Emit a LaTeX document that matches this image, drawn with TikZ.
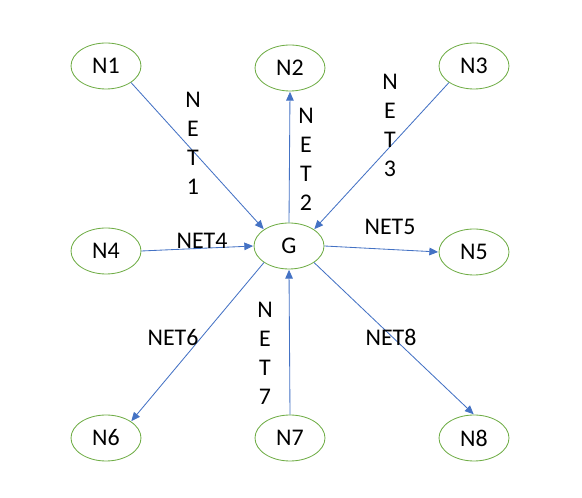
\documentclass[tikz,border=0pt]{standalone}
\usepackage{fontspec}
\setmainfont{Carlito}
\usepackage{tikz}
\usetikzlibrary{shapes.geometric,arrows.meta}

\definecolor{nodegreen}{RGB}{112,173,71}
\definecolor{wireblue}{RGB}{68,114,196}

\begin{document}
\begin{tikzpicture}[
  font=\fontsize{17}{20.6}\selectfont,
  vertex/.style={draw=nodegreen, ellipse, line width=0.6pt, inner sep=0pt,
    minimum width=1.75cm, minimum height=1.15cm},
  wire/.style={draw=wireblue, line width=0.6pt,
    -{Triangle[length=0.22cm,width=0.19cm]}, shorten >=0.3pt},
  netlabel/.style={align=center, inner sep=0pt}]
  \useasboundingbox (0,0) rectangle (14.55,12.45);

  \node[vertex] (N1) at (2.65,10.8) {N1};
  \node[vertex] (N2) at (7.25,10.75) {N2};
  \node[vertex] (N3) at (11.85,10.8) {N3};
  \node[vertex] (N4) at (2.65,6.175) {N4};
  \node[vertex] (G) at (7.225,6.3) {G};
  \node[vertex] (N5) at (11.85,6.15) {N5};
  \node[vertex] (N6) at (2.65,1.5) {N6};
  \node[vertex] (N7) at (7.25,1.5) {N7};
  \node[vertex] (N8) at (11.85,1.5) {N8};

  \draw[wire] (N1.south east) -- (G.north west);
  \draw[wire] (G.north) -- (N2.south);
  \draw[wire] (N3.south west) -- (G.north east);
  \draw[wire] (N4.east) -- (G.west);
  \draw[wire] (G.east) -- (N5.west);
  \draw[wire] (G.south west) -- (N6.north east);
  \draw[wire] (N7.north) -- (G.south);
  \draw[wire] (G.south east) -- (N8.north);

  \node[netlabel] (net1) at (4.825,8.86) {N\\E\\T\\1};
  \node[netlabel] (net2) at (7.65,8.46) {N\\E\\T\\2};
  \node[netlabel] (net3) at (9.75,9.325) {N\\E\\T\\3};
  \node[netlabel] (net4) at (5.05,6.425) {NET4};
  \node[netlabel] (net5) at (9.75,6.775) {NET5};
  \node[netlabel] (net6) at (4.325,4.0) {NET6};
  \node[netlabel] (net7) at (6.625,3.61) {N\\E\\T\\7};
  \node[netlabel] (net8) at (9.775,4.025) {NET8};
\end{tikzpicture}
\end{document}
